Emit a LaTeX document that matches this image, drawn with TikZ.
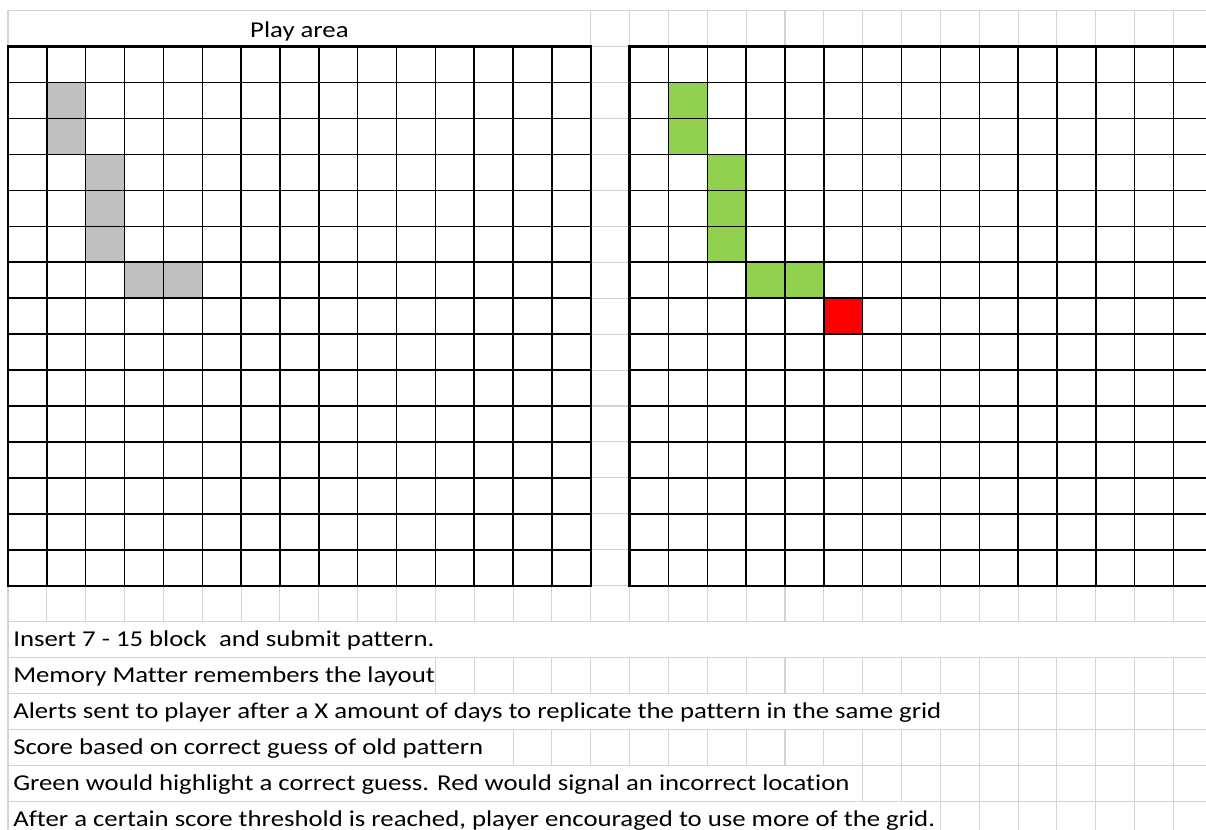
\documentclass[tikz,border=0pt]{standalone}
\usepackage{fontspec}
\setmainfont{Carlito}[FakeStretch=1.18,Ligatures=NoCommon]
\definecolor{sheetGrey}{RGB}{212,212,212}
\definecolor{cellGrey}{RGB}{192,192,192}
\definecolor{cellGreen}{RGB}{146,208,80}
\definecolor{cellRed}{RGB}{255,0,0}

\begin{document}
\begin{tikzpicture}[x=0.75pt,y=-0.75pt,
  sheetline/.style={draw=sheetGrey,line width=0.8pt},
  innerline/.style={draw=black,line width=1.1pt},
  outerline/.style={draw=black,line width=1.7pt},
  notetext/.style={anchor=base west,inner sep=0pt,font=\fontsize{17}{20}\selectfont}]
\def\colw{38.85}
\def\rowh{35.95}
\path[use as bounding box,fill=white] (0,0) rectangle (1206,830);

\foreach \c/\r in {2/2,2/3,3/4,3/5,3/6,4/7,5/7}{
  \fill[cellGrey] (8+\colw*\c-\colw,46.5+\rowh*\r-\rowh) rectangle ++(\colw,\rowh);
  \fill[cellGreen] (8+\colw*15+\colw*\c,46.5+\rowh*\r-\rowh) rectangle ++(\colw,\rowh);
}
\fill[cellRed] (8+\colw*21,46.5+\rowh*7) rectangle ++(\colw,\rowh);

\draw[sheetline] (8,10.5) -- (1206,10.5);
\draw[sheetline] (8,10.5) -- (8,830);
\foreach \k in {15,...,30} \draw[sheetline] (8+\colw*\k,10.5) -- (8+\colw*\k,46.5);
\foreach \j in {0,...,15} \draw[sheetline] (8+\colw*15,46.5+\rowh*\j) -- (8+\colw*16,46.5+\rowh*\j);
\foreach \k in {1,...,30} \draw[sheetline] (8+\colw*\k,46.5+\rowh*15) -- (8+\colw*\k,46.5+\rowh*16);
\foreach \j in {16,...,21} \draw[sheetline] (8,46.5+\rowh*\j) -- (1206,46.5+\rowh*\j);
\foreach \i/\s in {2/11,3/25,4/13,5/22,6/24}{
  \foreach \k in {\s,...,30} \draw[sheetline] (8+\colw*\k,46.5+\rowh*15+\rowh*\i) -- (8+\colw*\k,46.5+\rowh*16+\rowh*\i);
}

\foreach \k in {1,...,14} \draw[innerline] (8+\colw*\k,46.5) -- (8+\colw*\k,46.5+\rowh*15);
\foreach \j in {1,...,14} \draw[innerline] (8,46.5+\rowh*\j) -- (8+\colw*15,46.5+\rowh*\j);
\draw[outerline] (8,46.5) rectangle (8+\colw*15,46.5+\rowh*15);

\foreach \k in {17,...,30} \draw[innerline] (8+\colw*\k,46.5) -- (8+\colw*\k,46.5+\rowh*15);
\foreach \j in {1,...,14} \draw[innerline] (8+\colw*16,46.5+\rowh*\j) -- (1206,46.5+\rowh*\j);
\draw[outerline] (1206,46.5) -- (8+\colw*16,46.5) -- (8+\colw*16,46.5+\rowh*15) -- (1206,46.5+\rowh*15);

\node[anchor=base,inner sep=0pt,font=\fontsize{17}{20}\selectfont] (playarea) at (299.4,37.3) {Play area};
\node[notetext] (note1) at (13,646.6) {Insert 7 - 15 block\ \ and submit pattern.};
\node[notetext] (note2) at (13,682.6) {Memory Matter remembers the layout};
\node[notetext] (note3) at (13,718.5) {Alerts sent to player after a X amount of days to replicate the pattern in the same grid};
\node[notetext] (note4) at (13,754.5) {Score based on correct guess of old pattern};
\node[notetext] (note5) at (13,790.4) {Green would highlight a correct guess. Red would signal an incorrect location};
\node[notetext] (note6) at (13,826.4) {After a certain score threshold is reached, player encouraged to use more of the grid.};
\end{tikzpicture}
\end{document}
